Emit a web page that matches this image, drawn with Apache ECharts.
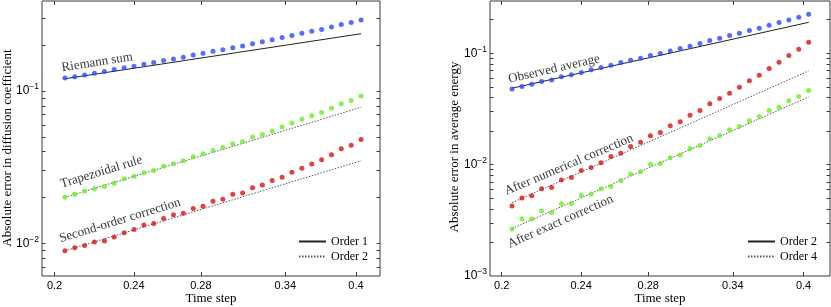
<!DOCTYPE html>
<html>
<head>
<meta charset="utf-8">
<script src="https://cdn.jsdelivr.net/npm/echarts@6/dist/echarts.min.js"></script>
<style>html,body{margin:0;padding:0;background:#fff;}#c{width:831px;height:307px;}</style>
</head>
<body>
<div id="c"></div>
<script>
// ---- data ----
const timeSteps = [0.2048,0.2095,0.2143,0.2192,0.2243,0.2294,0.2347,0.2401,0.2456,0.2512,0.2570,0.2629,0.2689,0.2751,0.2814,0.2879,0.2945,0.3013,0.3082,0.3153,0.3225,0.3299,0.3375,0.3452,0.3532,0.3613,0.3696,0.3781,0.3867,0.3956,0.4047];

const riemannErr = [0.1216,0.1240,0.1272,0.1310,0.1343,0.1384,0.1419,0.1455,0.1499,0.1537,0.1584,0.1624,0.1665,0.1724,0.1768,0.1822,0.1868,0.1924,0.1973,0.2043,0.2105,0.2169,0.2246,0.2315,0.2397,0.2470,0.2532,0.2636,0.2730,0.2813,0.2928];
const trapezoidErr = [0.02003,0.02096,0.02193,0.02282,0.02362,0.02483,0.02651,0.02759,0.02901,0.03004,0.03204,0.03335,0.03488,0.03703,0.03875,0.04073,0.04261,0.04499,0.04660,0.04995,0.05174,0.05467,0.05805,0.06163,0.06513,0.06882,0.07231,0.07717,0.08233,0.08655,0.09283];
const secondOrderErr = [0.008924,0.009335,0.009667,0.01021,0.01036,0.01101,0.01174,0.01234,0.01317,0.01351,0.01456,0.01538,0.01577,0.01691,0.01751,0.01888,0.01945,0.02096,0.02138,0.02317,0.02411,0.02585,0.02717,0.02929,0.03110,0.03319,0.03540,0.03817,0.04176,0.04410,0.04801];

const observedErr = [0.04786,0.05023,0.05272,0.05569,0.05765,0.06134,0.06393,0.06709,0.07089,0.07439,0.07806,0.08248,0.08654,0.09019,0.09530,0.09931,0.1049,0.1101,0.1156,0.1221,0.1299,0.1363,0.1440,0.1511,0.1597,0.1676,0.1783,0.1884,0.1991,0.2103,0.2238];
const numericalErr = [0.004244,0.005007,0.005254,0.006071,0.006240,0.007261,0.007672,0.008865,0.009432,0.01038,0.01183,0.01268,0.01455,0.01591,0.01814,0.01943,0.02230,0.02422,0.02780,0.03061,0.03512,0.03922,0.04378,0.04956,0.05648,0.06350,0.07289,0.08305,0.09530,0.1086,0.1255];
const exactErr = [0.002639,0.003267,0.003245,0.003828,0.003724,0.004454,0.004485,0.005291,0.005438,0.006071,0.006371,0.007211,0.008218,0.008624,0.01010,0.01024,0.01151,0.01217,0.01396,0.01486,0.01705,0.01827,0.02053,0.02200,0.02472,0.02704,0.03061,0.03279,0.03737,0.04087,0.04625];

// reference slope lines (end points)
const refSteps = [0.2048, 0.4047];
const order1Riemann = [0.1204, 0.2378];
const order2Trapezoid = [0.02003, 0.07817];
const order2Second = [0.008924, 0.03482];
const order2Observed = [0.04853, 0.1894];
const order4Numerical = [0.004559, 0.06943];
const order4Exact = [0.002665, 0.04059];

// ticks
const xTickValues = [0.2, 0.24, 0.28, 0.34, 0.4];
const leftYLabels = [0.01, 0.1];
const leftYTicks = [0.007,0.008,0.009,0.01,0.02,0.03,0.04,0.05,0.06,0.07,0.08,0.09,0.1,0.2,0.3];
const rightYLabels = [0.001, 0.01, 0.1];
const rightYTicks = [0.002,0.003,0.004,0.005,0.006,0.007,0.008,0.009,0.01,0.02,0.03,0.04,0.05,0.06,0.07,0.08,0.09,0.1,0.2];

const leftLegend = ['Order 1', 'Order 2'];
const rightLegend = ['Order 2', 'Order 4'];
const xTitle = 'Time step';
const leftYTitle = 'Absolute error in diffusion coefficient';
const rightYTitle = 'Absolute error in average energy';

// ---- styling ----
const SANS = 'Liberation Sans';
const SERIF = 'Liberation Serif';
const AX = '#3a3a3a';
const BLUE = '#2a48ff', GREEN = '#66f022', RED = '#d81212';

function xAxisDef(grid, min, max, pos, labels) {
  return {
    type: 'log', logBase: 10, gridIndex: grid, position: pos, min: min, max: max,
    name: labels ? xTitle : '', nameLocation: 'middle', nameGap: 16.5, nameMoveOverlap: false,
    nameTextStyle: {fontFamily: SERIF, fontSize: 13, color: '#000'},
    axisLine: {show: false},
    splitLine: {show: false}, minorTick: {show: false}, minorSplitLine: {show: false},
    axisTick: {show: true, inside: true, length: 4, lineStyle: {color: AX}, customValues: xTickValues},
    axisLabel: {show: labels, margin: 4, fontFamily: SANS, fontSize: 11, color: '#000',
      customValues: xTickValues, formatter: v => String(+(+v).toPrecision(6))}
  };
}
function yAxisDef(grid, min, max, pos, labels, ticks, labelVals) {
  return {
    type: 'log', logBase: 10, gridIndex: grid, position: pos, min: min, max: max,
    axisLine: {show: false},
    splitLine: {show: false}, minorTick: {show: false}, minorSplitLine: {show: false},
    axisTick: {show: true, inside: true, length: 3.5, lineStyle: {color: AX}, customValues: ticks},
    axisLabel: {show: labels, margin: 3, color: '#000', customValues: labelVals,
      formatter: v => '{b|10}{s|' + String(Math.round(Math.log10(v))).replace('-', '\u2212') + '}',
      rich: {
        b: {fontFamily: SANS, fontSize: 12, color: '#000'},
        s: {fontFamily: SANS, fontSize: 8.5, color: '#000', padding: [0, 0, 8, 0]}
      }}
  };
}

function dots(name, ys, color, xi, yi, text, rot, off, va) {
  const data = timeSteps.map((x, i) => [x, ys[i]]);
  data[0] = {value: data[0], label: {show: true, formatter: text, rotate: rot, offset: off,
    position: 'inside', align: 'left', verticalAlign: va || 'bottom',
    fontFamily: SERIF, fontSize: 13, color: '#000'}};
  return {name: name, type: 'scatter', xAxisIndex: xi, yAxisIndex: yi, data: data,
    symbol: 'circle', symbolSize: 5, itemStyle: {color: color}, z: 5,
    label: {show: false}, emphasis: {disabled: true}, silent: true};
}
function ref(name, ys, dash, xi, yi) {
  return {name: name, type: 'line', xAxisIndex: xi, yAxisIndex: yi,
    data: refSteps.map((x, i) => [x, ys[i]]), symbol: 'none', z: 3,
    lineStyle: {color: dash ? '#555' : '#222', width: 1, type: dash ? [1.5, 1.5] : 'solid'},
    itemStyle: {color: dash ? '#555' : '#222'},
    emphasis: {disabled: true}, silent: true, animation: false};
}
function yTitle(text, cx, cy) {
  return {type: 'text', x: cx, y: cy, rotation: Math.PI / 2, silent: true,
    style: {text: text, fill: '#000', font: '13px "Liberation Serif"', align: 'center', verticalAlign: 'middle'}};
}

const legendText = {fontFamily: SERIF, fontSize: 12, color: '#000'};
const legendBase = {orient: 'vertical', top: 235.5, itemWidth: 27, itemHeight: 14, itemGap: 3,
  textStyle: legendText, selectedMode: false, padding: 0, formatter: n => n.slice(2),
  itemStyle: {opacity: 0}};
const option = {
  animation: false,
  grid: [
    {left: 42, top: 1, width: 338, height: 275, show: true, borderColor: AX, borderWidth: 1,
     containLabel: false, outerBoundsMode: 'none'},
    {left: 490, top: 1, width: 340, height: 275, show: true, borderColor: AX, borderWidth: 1,
     containLabel: false, outerBoundsMode: 'none'}
  ],
  graphic: [yTitle(leftYTitle, 7.5, 148), yTitle(rightYTitle, 455, 147)],
  xAxis: [
    xAxisDef(0, 0.1943, 0.4227, 'bottom', true),
    xAxisDef(0, 0.1943, 0.4227, 'top', false),
    xAxisDef(1, 0.1947, 0.4250, 'bottom', true),
    xAxisDef(1, 0.1947, 0.4250, 'top', false)
  ],
  yAxis: [
    yAxisDef(0, 0.0061, 0.39, 'left', true, leftYTicks, leftYLabels),
    yAxisDef(0, 0.0061, 0.39, 'right', false, leftYTicks, leftYLabels),
    yAxisDef(1, 0.001, 0.2944, 'left', true, rightYTicks, rightYLabels),
    yAxisDef(1, 0.001, 0.2944, 'right', false, rightYTicks, rightYLabels)
  ],
  legend: [
    Object.assign({}, legendBase, {data: leftLegend.map(n => ({name: 'L ' + n})), left: 298}),
    Object.assign({}, legendBase, {data: rightLegend.map(n => ({name: 'R ' + n})), left: 747})
  ],
  series: [
    ref('L Order 1', order1Riemann, false, 0, 0),
    ref('L Order 2', order2Trapezoid, true, 0, 0),
    ref('L Order 2', order2Second, true, 0, 0),
    dots('Riemann sum', riemannErr, BLUE, 0, 0, 'Riemann sum', 9, [-1.5, -4]),
    dots('Trapezoidal rule', trapezoidErr, GREEN, 0, 0, 'Trapezoidal rule', 17, [-0.2, -7.1]),
    dots('Second-order correction', secondOrderErr, RED, 0, 0, 'Second-order correction', 17, [-1.5, -6.4]),
    ref('R Order 2', order2Observed, false, 2, 2),
    ref('R Order 4', order4Numerical, true, 2, 2),
    ref('R Order 4', order4Exact, true, 2, 2),
    dots('Observed average', observedErr, BLUE, 2, 2, 'Observed average', 13, [-1.3, -3.4]),
    dots('After numerical correction', numericalErr, RED, 2, 2, 'After numerical correction', 23, [-0.8, -9.4]),
    dots('After exact correction', exactErr, GREEN, 2, 2, 'After exact correction', 24, [-9.7, 19.4])
  ]
};
const chart = echarts.init(document.getElementById('c'), null, {renderer: 'canvas'});
chart.setOption(option);
</script>
</body>
</html>
